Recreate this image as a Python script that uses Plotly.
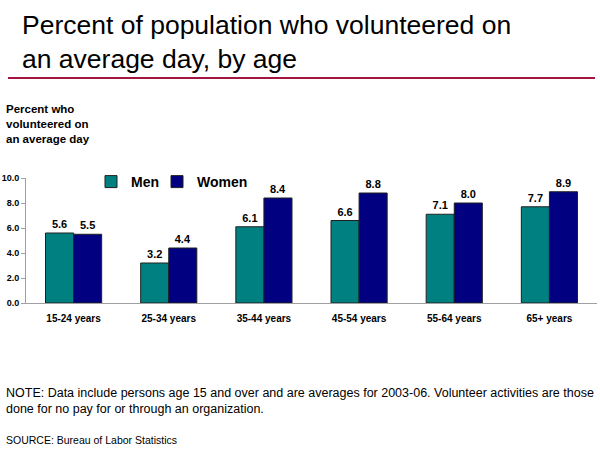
import plotly.graph_objects as go

categories = ["15-24 years", "25-34 years", "35-44 years", "45-54 years", "55-64 years", "65+ years"]
men = [5.6, 3.2, 6.1, 6.6, 7.1, 7.7]
women = [5.5, 4.4, 8.4, 8.8, 8.0, 8.9]
y_ticks = [0, 2, 4, 6, 8, 10]
y_tick_labels = ["0.0", "2.0", "4.0", "6.0", "8.0", "10.0"]

L, R, T, B = 26, 3, 178, 147
W, H = 600, 450

def px_x(px):
    return (px - L) / (W - L - R)

def px_y(py):
    return (H - B - py) / (H - T - B)

fig = go.Figure()
fig.add_trace(go.Bar(x=categories, y=men, name="Men", legend="legend",
                     marker=dict(color="#008080", line=dict(color="#202020", width=1)),
                     text=[f"{v:.1f}" for v in men], textposition="outside",
                     textfont=dict(family="Arial", size=11, color="black", weight="bold"), cliponaxis=False))
fig.add_trace(go.Bar(x=categories, y=women, name="Women", legend="legend2",
                     marker=dict(color="#000080", line=dict(color="#202020", width=1)),
                     text=[f"{v:.1f}" for v in women], textposition="outside",
                     textfont=dict(family="Arial", size=11, color="black", weight="bold"), cliponaxis=False))

leg_common = dict(orientation="h", xanchor="left", yanchor="top",
                  font=dict(family="Arial", size=14, color="black", weight="bold"),
                  bgcolor="rgba(0,0,0,0)", itemwidth=30)

fig.update_layout(
    width=W, height=H,
    margin=dict(l=L, r=R, t=T, b=B),
    paper_bgcolor="white", plot_bgcolor="white",
    barmode="group", bargap=0.41, bargroupgap=0,
    font=dict(family="Arial", color="black"),
    showlegend=True,
    legend=dict(x=px_x(91), y=px_y(166), **leg_common),
    legend2=dict(x=px_x(157), y=px_y(166), **leg_common),
    uniformtext=dict(minsize=11, mode="show"),
)
fig.update_xaxes(showline=True, linecolor="#a0a0a0", linewidth=1, ticks="", ticklabelstandoff=6,
                 tickfont=dict(family="Arial", size=10, color="black", weight="bold"))
fig.update_yaxes(range=[0, 10], tickvals=y_ticks, ticktext=y_tick_labels, showgrid=False, zeroline=False,
                 showline=True, linecolor="#a0a0a0", linewidth=1, ticks="outside", ticklen=4, tickcolor="#a0a0a0",
                 tickfont=dict(family="Arial", size=9, color="black", weight="bold"))

fig.add_annotation(x=px_x(20), y=px_y(8), xref="paper", yref="paper", xanchor="left", yanchor="top",
                   text="Percent of population who volunteered on<br>an average day, by age",
                   showarrow=False, align="left", font=dict(family="Arial", size=26.5, color="black"))
fig.add_shape(type="line", xref="paper", yref="paper", x0=px_x(8), x1=px_x(595), y0=px_y(78), y1=px_y(78),
              line=dict(color="#A3163F", width=2))
fig.add_annotation(x=px_x(4), y=px_y(101), xref="paper", yref="paper", xanchor="left", yanchor="top",
                   text="<b>Percent who<br>volunteered on<br>an average day</b>",
                   showarrow=False, align="left", font=dict(family="Arial", size=11.5, color="black"))
fig.add_annotation(x=px_x(4), y=px_y(384), xref="paper", yref="paper", xanchor="left", yanchor="top",
                   text="NOTE: Data include persons age 15 and over and are averages for 2003-06. Volunteer activities are those<br>done for no pay for or through an organization.",
                   showarrow=False, align="left", font=dict(family="Arial", size=12.5, color="black"))
fig.add_annotation(x=px_x(4), y=px_y(432), xref="paper", yref="paper", xanchor="left", yanchor="top",
                   text="SOURCE: Bureau of Labor Statistics",
                   showarrow=False, align="left", font=dict(family="Arial", size=10.5, color="black"))

fig.write_html("out.html", config={"displayModeBar": False},
               post_script="document.body.style.margin='0';document.body.style.padding='0';")
